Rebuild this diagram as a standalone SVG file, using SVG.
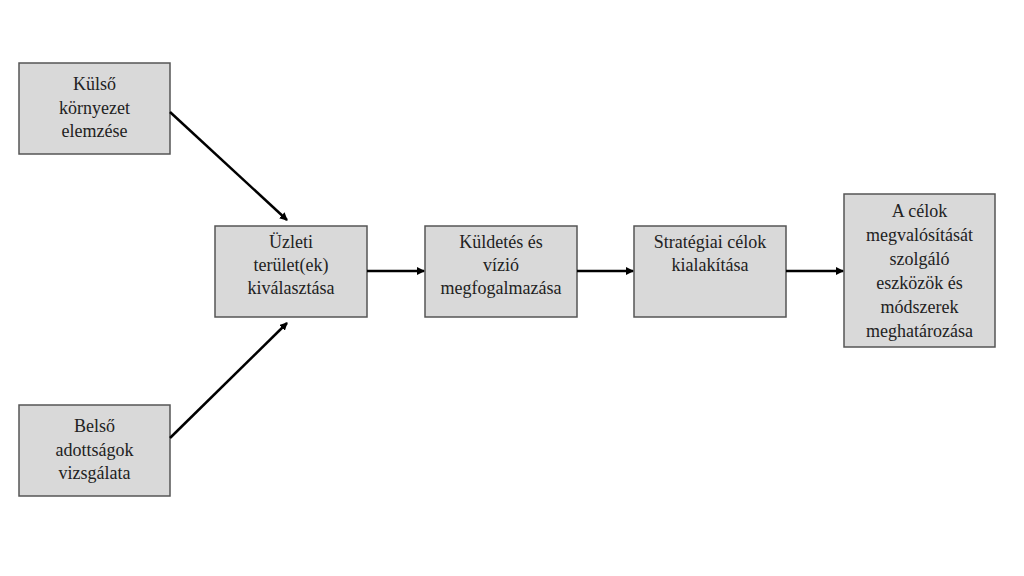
<svg xmlns="http://www.w3.org/2000/svg" width="1024" height="576" viewBox="0 0 1024 576">
<style>
.b{fill:#d9d9d9;stroke:#555;stroke-width:1.5}
.t{font-family:"Liberation Serif",serif;font-size:18px;fill:#222;text-anchor:middle}
.c{stroke:#000;stroke-width:2.5;fill:none;marker-end:url(#a)}
</style>
<defs><marker id="a" markerWidth="8" markerHeight="8" refX="7" refY="4" orient="auto" markerUnits="userSpaceOnUse"><path d="M0,0 L8,4 L0,8 z" fill="#000"/></marker></defs>
<rect width="1024" height="576" fill="#fff"/>
<g id="n1"><rect class="b" x="19" y="63" width="151" height="91"/><text class="t" x="94.5" y="90">Külső</text><text class="t" x="94.5" y="114">környezet</text><text class="t" x="94.5" y="137">elemzése</text></g>
<g id="n2"><rect class="b" x="19" y="405" width="151" height="91"/><text class="t" x="94.5" y="432">Belső</text><text class="t" x="94.5" y="456">adottságok</text><text class="t" x="94.5" y="479">vizsgálata</text></g>
<g id="n3"><rect class="b" x="215" y="226" width="152" height="91"/><text class="t" x="291" y="248">Üzleti</text><text class="t" x="291" y="271">terület(ek)</text><text class="t" x="291" y="294">kiválasztása</text></g>
<g id="n4"><rect class="b" x="425" y="226" width="152" height="91"/><text class="t" x="501" y="248">Küldetés és</text><text class="t" x="501" y="271">vízió</text><text class="t" x="501" y="294">megfogalmazása</text></g>
<g id="n5"><rect class="b" x="634" y="226" width="152" height="91"/><text class="t" x="710" y="248">Stratégiai célok</text><text class="t" x="710" y="271">kialakítása</text></g>
<g id="n6"><rect class="b" x="844" y="194" width="151" height="153"/><text class="t" x="919.5" y="217">A célok</text><text class="t" x="919.5" y="241">megvalósítását</text><text class="t" x="919.5" y="265">szolgáló</text><text class="t" x="919.5" y="289">eszközök és</text><text class="t" x="919.5" y="313">módszerek</text><text class="t" x="919.5" y="337">meghatározása</text></g>
<g id="connectors">
<line class="c" x1="170" y1="112" x2="287" y2="220"/>
<line class="c" x1="170" y1="438" x2="287" y2="323"/>
<line class="c" x1="367" y1="271" x2="424" y2="271"/>
<line class="c" x1="577" y1="271" x2="633" y2="271"/>
<line class="c" x1="786" y1="271" x2="843" y2="271"/>
</g>
</svg>
